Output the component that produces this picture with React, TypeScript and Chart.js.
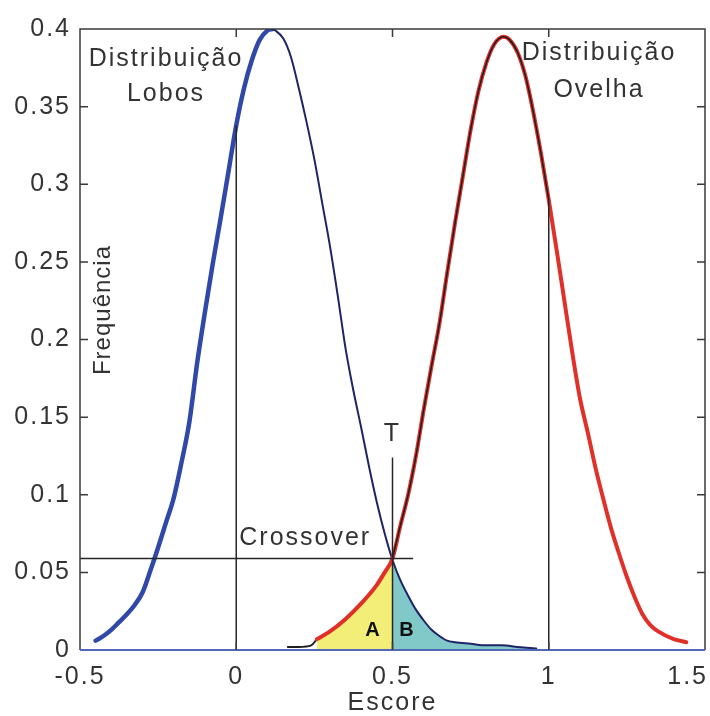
import { useEffect, useRef } from "react";
import { Chart, registerables } from "chart.js";

Chart.register(...registerables);

const FONT = '"Liberation Sans", Arial, sans-serif';
const TEXT = "#333333";

const xTickValues = [-0.5, 0, 0.5, 1, 1.5];
const xTickLabels = ["-0.5", "0", "0.5", "1", "1.5"];
const yTickValues = [0, 0.05, 0.1, 0.15, 0.2, 0.25, 0.3, 0.35, 0.4];
const yTickLabels = ["0", "0.05", "0.1", "0.15", "0.2", "0.25", "0.3", "0.35", "0.4"];

// Distribuição Lobos
const lobosScore = [
  -0.45, -0.425, -0.4, -0.375, -0.35, -0.325, -0.3, -0.275, -0.25, -0.225, -0.2, -0.175, -0.15, -0.125,
  -0.1, -0.075, -0.05, -0.025, 0, 0.025, 0.05, 0.075, 0.1, 0.115, 0.125, 0.15, 0.175, 0.2, 0.225, 0.25,
  0.275, 0.3, 0.325, 0.35, 0.375, 0.4, 0.425, 0.45, 0.475, 0.5, 0.525, 0.55, 0.575, 0.6, 0.625, 0.65,
  0.675, 0.7, 0.75, 0.8, 0.85, 0.9, 0.96,
];
const lobosFreq = [
  0.006, 0.009, 0.013, 0.018, 0.023, 0.029, 0.037, 0.051, 0.066, 0.082, 0.098, 0.121, 0.147, 0.185,
  0.218, 0.249, 0.278, 0.308, 0.338, 0.362, 0.38, 0.393, 0.399, 0.4, 0.399, 0.394, 0.382, 0.362, 0.34,
  0.316, 0.288, 0.26, 0.228, 0.194, 0.167, 0.143, 0.118, 0.095, 0.075, 0.058, 0.045, 0.035, 0.026,
  0.019, 0.013, 0.009, 0.006, 0.005, 0.004, 0.003, 0.003, 0.002, 0.001,
];
const lobosPeakScore = 0.115;

// Distribuição Ovelha
const ovelhaScore = [
  0.165, 0.2, 0.24, 0.258, 0.3, 0.35, 0.4, 0.45, 0.475, 0.5, 0.525, 0.55, 0.575, 0.6, 0.625, 0.65, 0.675,
  0.7, 0.725, 0.75, 0.775, 0.8, 0.825, 0.855, 0.875, 0.9, 0.925, 0.95, 0.975, 1, 1.025, 1.05, 1.075, 1.1,
  1.125, 1.15, 1.175, 1.2, 1.225, 1.25, 1.275, 1.3, 1.325, 1.35, 1.4, 1.44,
];
const ovelhaFreq = [
  0.002, 0.002, 0.003, 0.007, 0.012, 0.02, 0.03, 0.042, 0.05, 0.059, 0.08, 0.1, 0.125, 0.155, 0.183,
  0.21, 0.243, 0.275, 0.305, 0.335, 0.36, 0.378, 0.39, 0.395, 0.393, 0.385, 0.37, 0.347, 0.32, 0.29,
  0.258, 0.225, 0.192, 0.162, 0.14, 0.117, 0.097, 0.078, 0.062, 0.047, 0.034, 0.023, 0.016, 0.012,
  0.007, 0.005,
];
const ovelhaStartScore = 0.258;
const ovelhaOverlayRange = [0.5, 1.0];

// Threshold, crossover and guide lines
const thresholdT = 0.5;
const thresholdTop = 0.124;
const crossoverFreq = 0.059;
const crossoverEnd = 0.566;
const guideScore = [0, 1];
const guideTop = [0.338, 0.29];

type P = { x: number; y: number };
const pts = (xs: number[], ys: number[], keep: (x: number) => boolean): P[] =>
  xs.map((x, i) => ({ x, y: ys[i] })).filter((p) => keep(p.x));

const textPlugin = {
  id: "annotText",
  beforeDraw(chart: any) {
    chart.ctx.letterSpacing = "2px";
  },
  afterDraw(chart: any) {
    const ctx = chart.ctx as CanvasRenderingContext2D;
    const { left, right, top, bottom } = chart.chartArea;
    const xs = chart.scales.x;
    const ys = chart.scales.y;
    ctx.save();
    // frame
    ctx.strokeStyle = "#3a3a3a";
    ctx.lineWidth = 1.5;
    ctx.beginPath();
    ctx.moveTo(left, bottom);
    ctx.lineTo(left, top);
    ctx.lineTo(right, top);
    ctx.lineTo(right, bottom);
    ctx.stroke();
    ctx.strokeStyle = "#5468b8";
    ctx.lineWidth = 2;
    ctx.beginPath();
    ctx.moveTo(left, bottom);
    ctx.lineTo(right, bottom);
    ctx.stroke();
    // inward ticks
    ctx.strokeStyle = "#3a3a3a";
    ctx.lineWidth = 1.5;
    ctx.beginPath();
    yTickValues.forEach((v) => {
      if (v <= 0 || v >= 0.4) return;
      const py = ys.getPixelForValue(v);
      ctx.moveTo(left, py);
      ctx.lineTo(left + 8, py);
      ctx.moveTo(right, py);
      ctx.lineTo(right - 8, py);
    });
    xTickValues.forEach((v) => {
      if (v <= -0.5 || v >= 1.5) return;
      const px = xs.getPixelForValue(v);
      ctx.moveTo(px, top);
      ctx.lineTo(px, top + 8);
      ctx.moveTo(px, bottom);
      ctx.lineTo(px, bottom - 8);
    });
    ctx.stroke();

    // texts
    ctx.letterSpacing = "2px";
    ctx.fillStyle = TEXT;
    ctx.textBaseline = "middle";
    ctx.font = `25px ${FONT}`;
    // x tick labels (last one kept inside the canvas)
    xTickValues.forEach((v, i) => {
      const last = i === xTickValues.length - 1;
      ctx.textAlign = last ? "right" : "center";
      const px = last ? right + 3 : xs.getPixelForValue(v);
      ctx.fillText(xTickLabels[i], px, 677);
    });
    ctx.textAlign = "center";
    ctx.fillText("Distribuição", 166, 59);
    ctx.fillText("Lobos", 166, 94);
    ctx.fillText("Distribuição", 599, 53);
    ctx.fillText("Ovelha", 599, 90);
    ctx.fillText("T", xs.getPixelForValue(thresholdT), 434);
    ctx.fillText("Escore", (left + right) / 2, 703);
    ctx.textAlign = "left";
    ctx.fillText("Crossover", xs.getPixelForValue(0) + 3, 538);
    ctx.save();
    ctx.translate(103, 310);
    ctx.rotate(-Math.PI / 2);
    ctx.textAlign = "center";
    ctx.font = `24px ${FONT}`;
    ctx.letterSpacing = "1px";
    ctx.fillText("Frequência", 0, 0);
    ctx.restore();
    ctx.letterSpacing = "0px";
    ctx.font = `bold 20px ${FONT}`;
    ctx.fillStyle = "#111111";
    ctx.textAlign = "center";
    ctx.fillText("A", xs.getPixelForValue(thresholdT) - 20, 630);
    ctx.fillText("B", xs.getPixelForValue(thresholdT) + 14, 630);
    ctx.restore();
    ctx.letterSpacing = "0px";
  },
};

export default function App() {
  const ref = useRef<HTMLCanvasElement | null>(null);
  useEffect(() => {
    if (!ref.current) return;
    const line = (data: P[], color: string, width: number, order: number) => ({
      data,
      borderColor: color,
      borderWidth: width,
      pointRadius: 0,
      fill: false,
      cubicInterpolationMode: "monotone" as const,
      order,
      borderCapStyle: "round" as const,
      borderJoinStyle: "round" as const,
    });
    const straight = (data: P[], order: number) => ({
      data,
      borderColor: "#262626",
      borderWidth: 1.5,
      pointRadius: 0,
      fill: false,
      tension: 0,
      order,
    });
    const chart = new Chart(ref.current, {
      type: "line",
      data: {
        datasets: [
          // guides (top)
          straight([{ x: -0.5, y: crossoverFreq }, { x: crossoverEnd, y: crossoverFreq }], 1),
          straight([{ x: thresholdT, y: 0 }, { x: thresholdT, y: thresholdTop }], 1),
          ...guideScore.map((g, i) => straight([{ x: g, y: 0 }, { x: g, y: guideTop[i] }], 1)),
          // ovelha overlay thin black
          line(pts(ovelhaScore, ovelhaFreq, (x) => x >= ovelhaOverlayRange[0] && x <= ovelhaOverlayRange[1]), "#1e1e1e", 1.5, 2),
          // ovelha thick red
          line(pts(ovelhaScore, ovelhaFreq, (x) => x >= ovelhaStartScore), "#e0302a", 4, 3),
          // ovelha black tail
          line(pts(ovelhaScore, ovelhaFreq, (x) => x <= ovelhaStartScore), "#1e1e1e", 2, 3),
          // lobos thin descending
          line(pts(lobosScore, lobosFreq, (x) => x >= lobosPeakScore), "#1f2466", 2, 4),
          // lobos thick blue
          line(pts(lobosScore, lobosFreq, (x) => x <= lobosPeakScore), "#3048a8", 4.5, 4),
          // fills
          {
            data: pts(ovelhaScore, ovelhaFreq, (x) => x >= ovelhaStartScore && x <= thresholdT),
            borderWidth: 0,
            borderColor: "rgba(0,0,0,0)",
            backgroundColor: "#f3ee78",
            fill: "origin",
            pointRadius: 0,
            cubicInterpolationMode: "monotone" as const,
            order: 10,
          },
          {
            data: pts(lobosScore, lobosFreq, (x) => x >= thresholdT),
            borderWidth: 0,
            borderColor: "rgba(0,0,0,0)",
            backgroundColor: "#80c9c8",
            fill: "origin",
            pointRadius: 0,
            cubicInterpolationMode: "monotone" as const,
            order: 10,
          },
        ] as any,
      },
      options: {
        animation: false,
        responsive: true,
        maintainAspectRatio: false,
        layout: { padding: { left: 0, top: 29, right: 5, bottom: 0 } },
        plugins: { legend: { display: false }, tooltip: { enabled: false } },
        scales: {
          x: {
            type: "linear",
            min: -0.5,
            max: 1.5,
            afterBuildTicks: (s: any) => {
              s.ticks = xTickValues.map((value) => ({ value }));
            },
            afterFit: (s: any) => {
              s.height = 66;
              s.paddingLeft = 0;
              s.paddingRight = 0;
            },
            grid: { display: false, drawTicks: false },
            border: { display: false },
            ticks: { display: false },
          },
          y: {
            type: "linear",
            min: 0,
            max: 0.4,
            afterBuildTicks: (s: any) => {
              s.ticks = yTickValues.map((value) => ({ value }));
            },
            afterFit: (s: any) => {
              s.width = 80;
              s.paddingTop = 0;
              s.paddingBottom = 0;
            },
            grid: { display: false, drawTicks: false },
            border: { display: false },
            ticks: {
              autoSkip: false,
              padding: 9,
              color: TEXT,
              font: { family: FONT, size: 25 },
              callback: (_v: any, i: number) => yTickLabels[i],
            },
          },
        },
      },
      plugins: [textPlugin],
    });
    return () => chart.destroy();
  }, []);
  return (
    <div style={{ position: "absolute", left: 0, top: 0, width: 710, height: 716, background: "#fff" }}>
      <canvas ref={ref} />
    </div>
  );
}
